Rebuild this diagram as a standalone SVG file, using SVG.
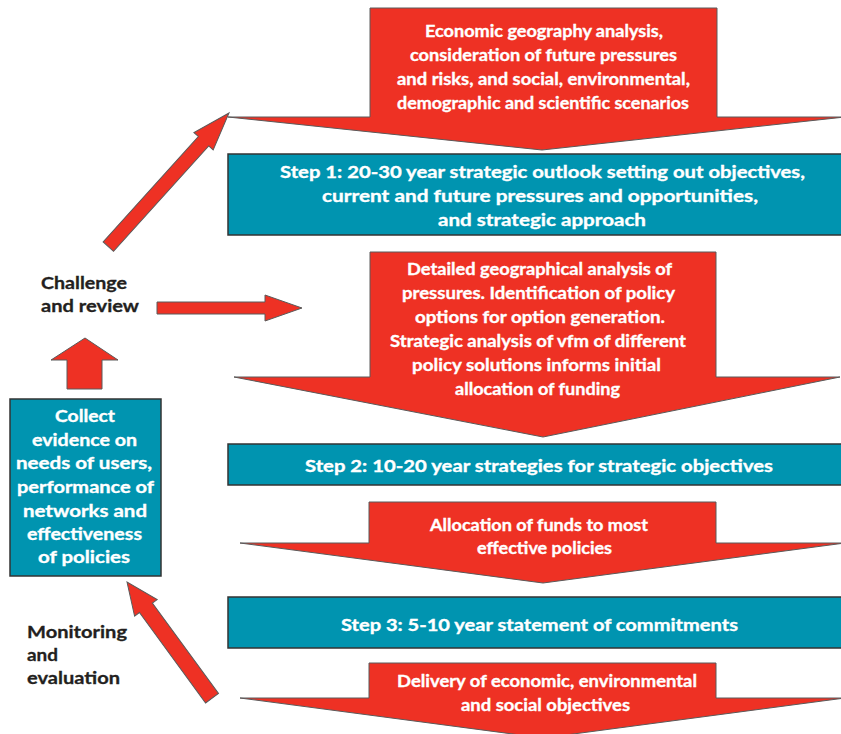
<svg xmlns="http://www.w3.org/2000/svg" width="841" height="734" viewBox="0 0 841 734">
<defs>
<style>
.arr{fill:#ee3124;stroke:#5a5a5a;stroke-width:1}
.box{fill:#0094b0;stroke:#333;stroke-width:1.5}
.wt{font-family:Lato,"Liberation Sans",sans-serif;font-weight:bold;font-size:17px;fill:#fff;stroke:#fff;stroke-width:0.35px;text-anchor:middle}
.lb{font-family:Lato,"Liberation Sans",sans-serif;font-weight:bold;font-size:17px;fill:#231f20;stroke:#231f20;stroke-width:0.3px}
</style>
</defs>
<rect width="841" height="734" fill="#fff"/>
<g id="connectors">
<polygon class="arr" transform="translate(229,113) rotate(-47.9)" points="0,0 -38,-13 -38,-7 -180,-7 -180,7 -38,7 -38,13"/>
<polygon class="arr" points="157,302 265,302 265,295 302,308 265,321 265,314 157,314"/>
<polygon class="arr" points="85,338 118,360 102,360 102,389 67,389 67,360 51,360"/>
<polygon class="arr" transform="translate(127,582) rotate(-126.2)" points="0,0 -32,-14 -32,-8 -144,-8 -144,8 -32,8 -32,14"/>
</g>
<g id="arrow1">
<polygon class="arr" points="370,8 717,8 717,117 845,117 542,150 228,117 370,117"/>
<text class="wt" x="544" y="37" textLength="238" lengthAdjust="spacingAndGlyphs">Economic geography analysis,</text>
<text class="wt" x="543.5" y="61" textLength="267" lengthAdjust="spacingAndGlyphs">consideration of future pressures</text>
<text class="wt" x="543.5" y="85" textLength="293" lengthAdjust="spacingAndGlyphs">and risks, and social, environmental,</text>
<text class="wt" x="543" y="109" textLength="292" lengthAdjust="spacingAndGlyphs">demographic and scientific scenarios</text>
</g>
<g id="step1">
<rect class="box" x="228" y="154" width="620" height="81"/>
<text class="wt" x="542.5" y="178" textLength="525" lengthAdjust="spacingAndGlyphs">Step 1: 20-30 year strategic outlook setting out objectives,</text>
<text class="wt" x="540" y="202" textLength="436" lengthAdjust="spacingAndGlyphs">current and future pressures and opportunities,</text>
<text class="wt" x="542" y="226" textLength="208" lengthAdjust="spacingAndGlyphs">and strategic approach</text>
</g>
<g id="arrow2">
<polygon class="arr" points="370,252 716,252 716,377 840,377 543,437 234,377 370,377"/>
<text class="wt" x="539.5" y="275" textLength="265" lengthAdjust="spacingAndGlyphs">Detailed geographical analysis of</text>
<text class="wt" x="538.5" y="299" textLength="273" lengthAdjust="spacingAndGlyphs">pressures. Identification of policy</text>
<text class="wt" x="540" y="323" textLength="250" lengthAdjust="spacingAndGlyphs">options for option generation.</text>
<text class="wt" x="538" y="347" textLength="296" lengthAdjust="spacingAndGlyphs">Strategic analysis of vfm of different</text>
<text class="wt" x="536.5" y="371" textLength="249" lengthAdjust="spacingAndGlyphs">policy solutions informs initial</text>
<text class="wt" x="537.5" y="395" textLength="165" lengthAdjust="spacingAndGlyphs">allocation of funding</text>
</g>
<g id="step2">
<rect class="box" x="228" y="444" width="620" height="41"/>
<text class="wt" x="539" y="472" textLength="468" lengthAdjust="spacingAndGlyphs">Step 2: 10-20 year strategies for strategic objectives</text>
</g>
<g id="arrow3">
<polygon class="arr" points="369,502 716,502 716,543 845,543 543,583 240,543 369,543"/>
<text class="wt" x="539" y="531" textLength="218" lengthAdjust="spacingAndGlyphs">Allocation of funds to most</text>
<text class="wt" x="544.5" y="554" textLength="135" lengthAdjust="spacingAndGlyphs">effective policies</text>
</g>
<g id="step3">
<rect class="box" x="228" y="597" width="620" height="51"/>
<text class="wt" x="539.5" y="631" textLength="397" lengthAdjust="spacingAndGlyphs">Step 3: 5-10 year statement of commitments</text>
</g>
<g id="arrow4">
<polygon class="arr" points="369,663 716,663 716,698 845,698 543,738 240,698 369,698"/>
<text class="wt" x="547" y="687" textLength="300" lengthAdjust="spacingAndGlyphs">Delivery of economic, environmental</text>
<text class="wt" x="545.5" y="711" textLength="169" lengthAdjust="spacingAndGlyphs">and social objectives</text>
</g>
<g id="collect">
<rect class="box" x="10" y="399" width="151" height="177"/>
<text class="wt" x="85" y="422" textLength="60" lengthAdjust="spacingAndGlyphs">Collect</text>
<text class="wt" x="84.5" y="446" textLength="105" lengthAdjust="spacingAndGlyphs">evidence on</text>
<text class="wt" x="84" y="469" textLength="136" lengthAdjust="spacingAndGlyphs">needs of users,</text>
<text class="wt" x="85.5" y="493" textLength="137" lengthAdjust="spacingAndGlyphs">performance of</text>
<text class="wt" x="85" y="517" textLength="124" lengthAdjust="spacingAndGlyphs">networks and</text>
<text class="wt" x="84.5" y="540" textLength="115" lengthAdjust="spacingAndGlyphs">effectiveness</text>
<text class="wt" x="84" y="563" textLength="92" lengthAdjust="spacingAndGlyphs">of policies</text>
</g>
<g id="challenge">
<text class="lb" x="41" y="289" textLength="86" lengthAdjust="spacingAndGlyphs">Challenge</text>
<text class="lb" x="41" y="312" textLength="98" lengthAdjust="spacingAndGlyphs">and review</text>
</g>
<g id="monitoring">
<text class="lb" x="27" y="638" textLength="100" lengthAdjust="spacingAndGlyphs">Monitoring</text>
<text class="lb" x="27" y="661" textLength="31" lengthAdjust="spacingAndGlyphs">and</text>
<text class="lb" x="27" y="684" textLength="93" lengthAdjust="spacingAndGlyphs">evaluation</text>
</g>
</svg>
